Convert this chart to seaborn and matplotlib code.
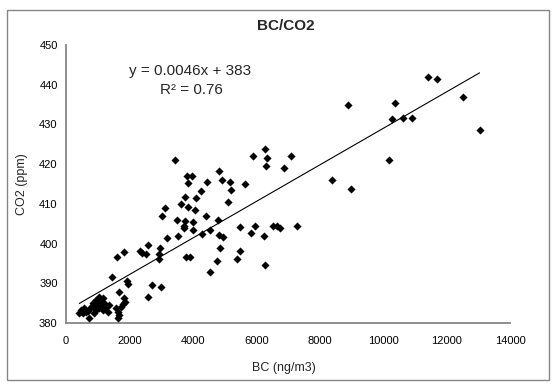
import numpy as np
import pandas as pd
import matplotlib
matplotlib.use("Agg")
import matplotlib.pyplot as plt
import seaborn as sns
from matplotlib.patches import Rectangle

# ---- data ----
bc = [419, 472, 577, 629, 734, 786, 839, 891, 944, 996, 1048, 1101, 1153, 1206,
      1258, 1310, 944, 1048, 681, 524, 891, 1101, 1153, 1363,
      1437, 1604, 1835, 1908, 1940, 1667, 1835, 1855, 1782, 1730, 1572, 1625, 1677, 1646,
      2327, 2411, 2516, 2590, 2590, 2705, 3010,
      2956, 2940, 2935, 3040, 3135, 3198,
      3491, 3543, 3617, 3743, 3722, 3722, 3785, 3910,
      3753, 3837, 3847, 3428, 3826, 3963,
      4004, 4004, 4067, 4088, 4256, 4434, 4413, 4300, 4540, 4551,
      4771, 4843, 4834, 4938, 4803, 4928, 4834, 5095, 5158, 5190, 5630,
      5388, 5472, 5472, 5829, 5955, 6237, 6280, 6531, 6657, 6741, 7274,
      5892, 6280, 6343, 6322, 6888, 7108,
      8388, 8995, 8880, 10190, 10295, 10380, 10630, 10900, 11407, 11700, 12530, 13040]
co2 = [382.6, 383.3, 383.7, 382.8, 381.2, 384.1, 385.0, 383.7, 385.8, 384.5, 386.6, 385.4, 386.2, 385.0,
       384.1, 382.8, 383.3, 383.7, 383.1, 382.4, 382.4, 384.1, 383.3, 384.5,
       391.6, 396.5, 397.8, 390.6, 389.8, 387.8, 386.2, 385.4, 384.8, 384.1, 383.7, 382.8, 382.0, 381.3,
       398.2, 397.7, 397.4, 399.6, 386.5, 389.6, 389.1,
       398.8, 397.4, 396.1, 407.0, 409.0, 401.3,
       405.9, 401.9, 410.0, 405.6, 404.4, 403.8, 396.7, 396.7,
       411.8, 409.3, 415.2, 421.1, 416.9, 417.0,
       405.4, 403.4, 408.5, 411.6, 413.3, 415.4, 407.0, 402.4, 403.4, 392.9,
       395.7, 398.8, 402.2, 401.6, 405.9, 416.0, 418.3, 410.5, 415.4, 413.6, 414.9,
       396.1, 398.2, 404.1, 402.6, 404.4, 401.9, 394.6, 404.4, 404.3, 403.8, 404.4,
       422.1, 423.8, 421.6, 419.5, 419.0, 422.1,
       415.9, 413.8, 434.8, 421.1, 431.3, 435.3, 431.6, 431.7, 442.0, 441.5, 436.8, 428.7]
slope = 0.0046
intercept = 383
r_squared = 0.76
x_ticks = [0, 2000, 4000, 6000, 8000, 10000, 12000, 14000]
y_ticks = [380, 390, 400, 410, 420, 430, 440, 450]
title_text = "BC/CO2"
x_label = "BC (ng/m3)"
y_label = "CO2 (ppm)"

sns.set_style("white")
plt.rcParams['font.family'] = ['Liberation Sans', 'DejaVu Sans']

W, H = 557, 385
fig = plt.figure(figsize=(W / 100, H / 100), dpi=100)


def fx(px):
    return px / W


def fy(py):
    return 1 - py / H


ax = fig.add_axes([fx(66), fy(323), fx(510) - fx(66), fy(45) - fy(323)])

df = pd.DataFrame({"BC": bc, "CO2": co2})
sns.scatterplot(data=df, x="BC", y="CO2", marker="D", s=17, color="black",
                linewidth=0, ax=ax, zorder=3)
xs = np.array([min(bc), max(bc)], dtype=float)
sns.lineplot(x=xs, y=slope * xs + intercept, color="black", linewidth=0.8,
             ax=ax, zorder=2)

ax.set_xlim(0, 14000)
ax.set_ylim(380, 450)
ax.set_xticks(x_ticks)
ax.set_yticks(y_ticks)
ax.set_xticklabels([str(v) for v in x_ticks])
ax.set_yticklabels([str(v) for v in y_ticks])
ax.set_xlabel("")
ax.set_ylabel("")

gray = "#868686"
for side in ["top", "right"]:
    ax.spines[side].set_visible(False)
for side in ["left", "bottom"]:
    ax.spines[side].set_color(gray)
    ax.spines[side].set_linewidth(1.3)
ax.tick_params(axis="both", direction="in", length=4, width=1, color=gray,
               labelsize=8, labelcolor="black")
ax.tick_params(axis="y", pad=6)
ax.tick_params(axis="x", pad=9)

fig.text(fx(286), fy(26.5), title_text, ha="center", va="center",
         fontsize=11, fontweight="bold")
fig.text(fx(284), fy(368), x_label, ha="center", va="center", fontsize=9)
fig.text(fx(22), fy(184), y_label, ha="center", va="center", fontsize=9,
         rotation=90)
fig.text(fx(190), fy(71), f"y = {slope}x + {intercept}", ha="center",
         va="center", fontsize=11)
fig.text(fx(191), fy(90), f"R² = {r_squared}", ha="center", va="center",
         fontsize=11)

fig.patches.append(Rectangle((fx(7), fy(380)), fx(549) - fx(7), fy(10) - fy(380),
                             transform=fig.transFigure, fill=False,
                             edgecolor=gray, linewidth=1))

fig.savefig("out.png", dpi=100)
